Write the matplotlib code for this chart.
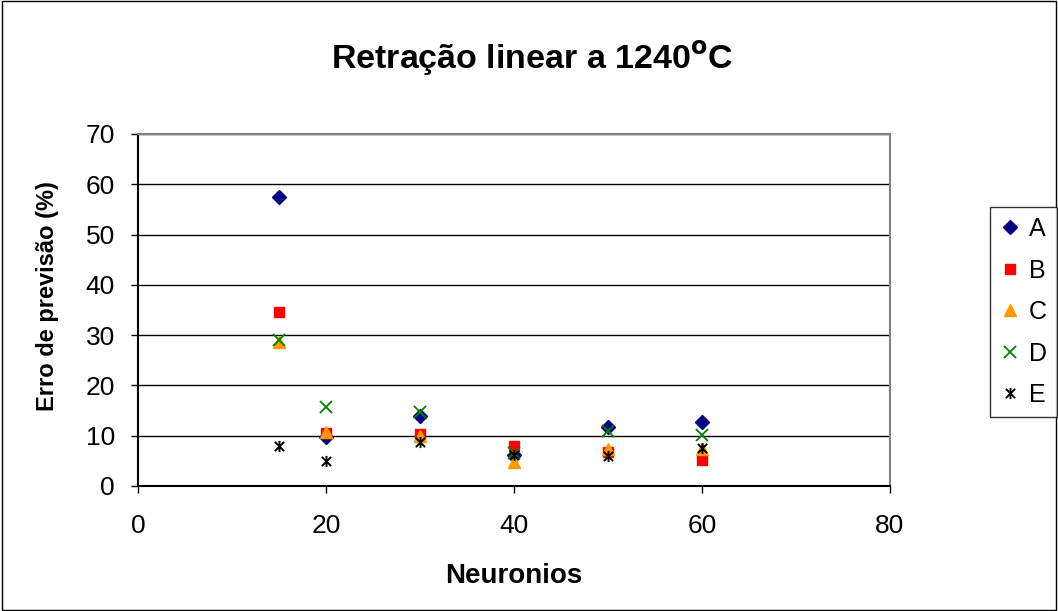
import matplotlib
matplotlib.use("Agg")
import matplotlib.pyplot as plt
from matplotlib.patches import Rectangle
from matplotlib.path import Path

plt.rcParams['font.family'] = ['Liberation Sans', 'DejaVu Sans']

neuronios = [15, 20, 30, 40, 50, 60]
serie_a = [57.5, 9.7, 13.9, 6.2, 11.7, 12.7]
serie_b = [34.6, 10.6, 10.3, 8.0, 6.8, 5.1]
serie_c = [28.6, 10.8, 9.9, 4.8, 7.3, 7.4]
serie_d = [29.0, 15.7, 14.8, 6.5, 11.0, 10.2]
serie_e = [8.0, 4.9, 8.7, 6.2, 6.0, 7.5]

x_ticks = [0, 20, 40, 60, 80]
y_ticks = [0, 10, 20, 30, 40, 50, 60, 70]

# asterisk marker: an X crossed by a vertical stroke
star = Path([(-0.5, -0.5), (0.5, 0.5), (-0.5, 0.5), (0.5, -0.5), (0, -0.6), (0, 0.6)],
            [Path.MOVETO, Path.LINETO, Path.MOVETO, Path.LINETO, Path.MOVETO, Path.LINETO])

fig = plt.figure(figsize=(10.58, 6.11), dpi=100)
fig.patches.append(Rectangle((0.002, 0.002), 0.996, 0.996, transform=fig.transFigure,
                             fill=False, edgecolor='black', linewidth=1.0))
ax = fig.add_axes([0.1304, 0.2046, 0.7108, 0.5761])

styles = [
    ('A', serie_a, dict(marker='D', color='#000080', markersize=7)),
    ('B', serie_b, dict(marker='s', color='#FF0000', markersize=7)),
    ('C', serie_c, dict(marker='^', color='#FF9900', markersize=8)),
    ('D', serie_d, dict(marker='x', color='#008000', markersize=8, markeredgewidth=1.3)),
    ('E', serie_e, dict(marker=star, color='#000000', markersize=8, markeredgewidth=1.4)),
]
for name, vals, kw in styles:
    ax.plot(neuronios, vals, linestyle='none', label=name, **kw)

ax.set_xlim(0, 80)
ax.set_ylim(0, 70)
ax.set_xticks(x_ticks)
ax.set_yticks(y_ticks)
ax.yaxis.grid(True, color='black', linewidth=1.0)
ax.set_axisbelow(True)
for s in ax.spines.values():
    s.set_color('#808080')
    s.set_linewidth(1.5)
ax.spines['bottom'].set_color('black')
ax.spines['left'].set_color('black')
ax.tick_params(axis='both', labelsize=19, direction='out', length=5, width=1, colors='black')
ax.tick_params(axis='x', pad=15)
ax.tick_params(axis='y', pad=11.5)
ax.set_xlabel('Neuronios', fontsize=20, fontweight='bold', labelpad=18)
ax.set_ylabel('Erro de previsão (%)', fontsize=17, fontweight='bold', labelpad=19)
ax.yaxis.label.set_y(0.54)

fig.text(0.503, 0.905, r'Retração linear a 1240$^{\mathbf{o}}$C', ha='center', va='center',
         fontsize=24.5, fontweight='bold')

leg = fig.legend(loc='center', bbox_to_anchor=(0.9675, 0.489), frameon=True,
                 fontsize=18, handlelength=0.8, handletextpad=0.35, labelspacing=0.7,
                 borderpad=0.4, fancybox=False, edgecolor='black', borderaxespad=0)
leg.get_frame().set_linewidth(1.0)

fig.savefig('out.png', dpi=100)
